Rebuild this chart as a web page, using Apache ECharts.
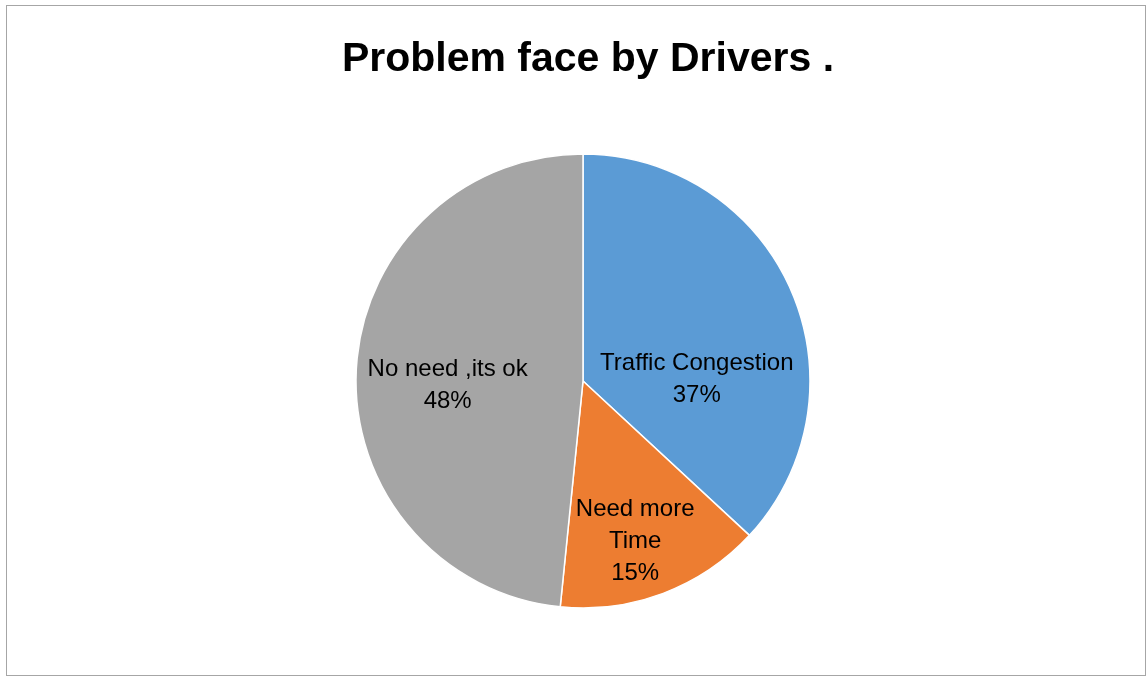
<!DOCTYPE html>
<html>
<head>
<meta charset="utf-8">
<script src="https://cdn.jsdelivr.net/npm/echarts@6/dist/echarts.min.js"></script>
<style>
html,body{margin:0;padding:0;background:#fff;}
#wrap{position:relative;width:1147px;height:679px;}
#frame{position:absolute;left:6px;top:5px;width:1138px;height:669px;border:1px solid #a6a6a6;}
#chart{position:absolute;left:0;top:0;width:1147px;height:679px;}
</style>
</head>
<body>
<div id="wrap"><div id="frame"></div><div id="chart"></div></div>
<script>
const titleText = 'Problem face by Drivers .';
const categories = ['Traffic Congestion', 'Need more Time', 'No need ,its ok'];
const labelNames = ['Traffic Congestion', 'Need more\nTime', 'No need ,its ok'];
const values = [36.9, 14.7, 48.4];
const colors = ['#5B9BD5', '#ED7D31', '#A5A5A5'];
const labelShift = [[7, 45], [11, 51], [-19, 10]];

const chart = echarts.init(document.getElementById('chart'));
chart.setOption({
  animation: false,
  title: {
    text: titleText,
    left: 583, top: 34, textAlign: 'center',
    textStyle: {fontFamily: 'Liberation Sans', fontWeight: 'bold', fontSize: 41, color: '#000'}
  },
  series: [{
    type: 'pie',
    center: [583, 381],
    radius: 227,
    startAngle: 90,
    clockwise: true,
    silent: true,
    emphasis: {disabled: true},
    itemStyle: {borderColor: '#fff', borderWidth: 1.5},
    label: {
      show: true,
      position: 'inside',
      fontFamily: 'Liberation Sans',
      fontSize: 24,
      lineHeight: 32,
      color: '#000',
      align: 'center',
      formatter: p => labelNames[p.dataIndex] + '\n' + Math.round(p.percent) + '%'
    },
    labelLayout: p => ({dx: labelShift[p.dataIndex][0], dy: labelShift[p.dataIndex][1]}),
    data: categories.map((c, i) => ({name: c, value: values[i], itemStyle: {color: colors[i]}}))
  }]
});
</script>
</body>
</html>
